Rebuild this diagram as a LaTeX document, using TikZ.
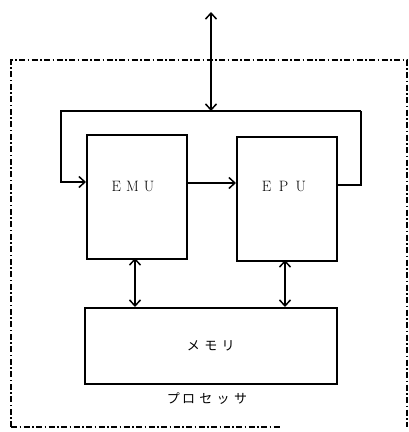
\documentclass[tikz,border=0pt]{standalone}
\usepackage{fontspec}
\newfontfamily\jp{Noto Sans CJK JP}
\usetikzlibrary{arrows.meta}
\begin{document}
\begin{tikzpicture}[x=1pt,y=-1pt,
  line width=1.6pt,
  box/.style={draw,line width=1.6pt,inner sep=0pt,anchor=north west},
  arr/.style={-{Straight Barb[length=6pt,width=11pt,line width=1.5pt]}},
  darr/.style={{Straight Barb[length=6pt,width=11pt,line width=1.5pt]}-{Straight Barb[length=6pt,width=11pt,line width=1.5pt]}},
  frame/.style={draw,line width=1.4pt,dash pattern=on 6pt off 2.5pt on 1.5pt off 2.5pt}]
\useasboundingbox (0,0) rectangle (409,432);
\draw[frame] (11,427) -- (11,60) -- (407,60) -- (407,427);
\draw[frame] (11,427) -- (280,427);
\node[box,minimum width=100pt,minimum height=124pt] (emu) at (86,134) {};
\node[box,minimum width=100pt,minimum height=124pt] (epu) at (236,136) {};
\node[box,minimum width=252pt,minimum height=76pt] (mem) at (84,307) {};
\node[font=\fontsize{15}{17}\selectfont] (emut) at (133,186) {E\,\,M\,\,U};
\node[font=\fontsize{15}{17}\selectfont] (eput) at (284,186) {E\,\,\,P\,\,\,U};
\node[font=\jp\fontsize{13}{15}\selectfont] (memt) at (mem.center) {メ\,\,モ\,\,リ};
\node[font=\jp\fontsize{13}{15}\selectfont] (proc) at (207,399) {プ\,ロ\,\,セ\,\,ッ\,\,サ};
\coordinate (top) at (211,12);
\coordinate (bus) at (211,111);
\coordinate (lt) at (61,111);
\coordinate (rt) at (361,111);
\draw[darr] (top) -- (bus);
\draw[arr] (rt) -- (lt) -- (61,182) -- (emu.west |- 0,182);
\draw (epu.east |- 0,185) -- (361,185) -- (rt);
\draw[arr] (emu.east |- 0,183) -- (epu.west |- 0,183);
\draw[darr] (135,258) -- (135,307);
\draw[darr] (285,260) -- (285,307);
\end{tikzpicture}
\end{document}
